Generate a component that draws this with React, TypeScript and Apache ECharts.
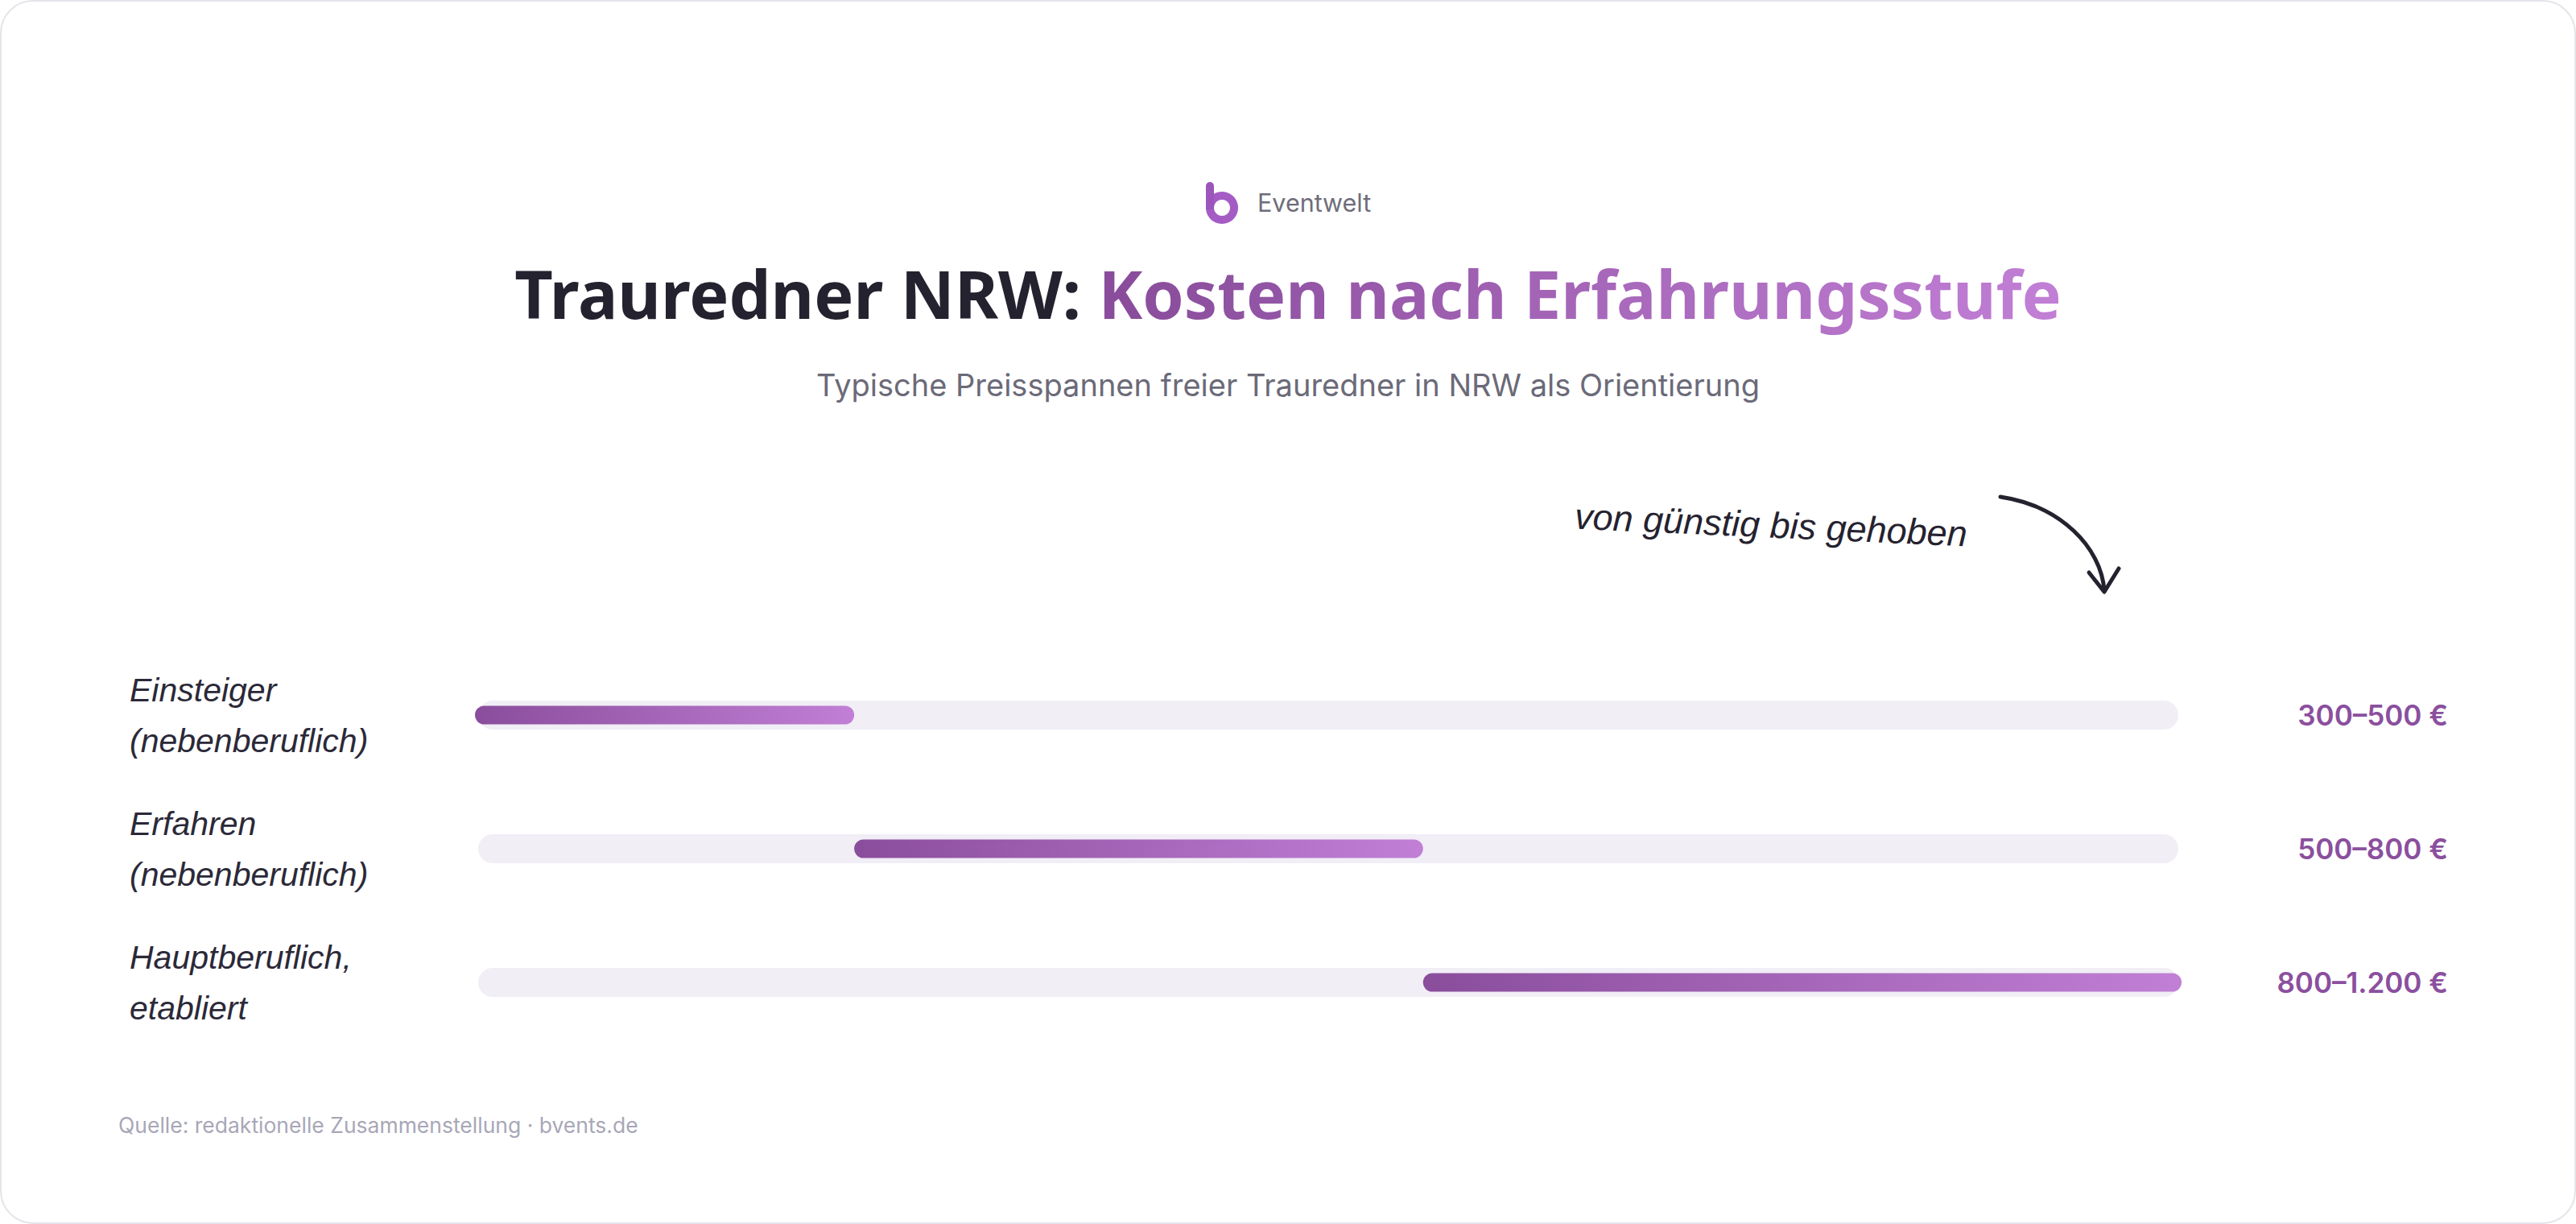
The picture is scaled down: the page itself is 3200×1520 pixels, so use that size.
import React, { useEffect, useRef } from "react";
import * as echarts from "echarts";

// ---- data ----
const categories: string[] = [
  "Einsteiger\n(nebenberuflich)",
  "Erfahren\n(nebenberuflich)",
  "Hauptberuflich,\netabliert",
];
const rangeStart: number[] = [300, 500, 800];
const rangeEnd: number[] = [500, 800, 1200];
const axisMin = 300;
const axisMax = 1200;

const titleDark = "Trauredner NRW: ";
const titleAccent = "Kosten nach Erfahrungsstufe";
const subtitle = "Typische Preisspannen freier Trauredner in NRW als Orientierung";
const brand = "Eventwelt";
const annotation = "von günstig bis gehoben";
const source = "Quelle: redaktionelle Zusammenstellung · bvents.de";

const fmt = (v: number): string =>
  v >= 1000 ? `${Math.floor(v / 1000)}.${String(v % 1000).padStart(3, "0")}` : String(v);

const HAND = "'Liberation Sans', Arimo, sans-serif";
const SANS = "Inter, 'Noto Sans', sans-serif";
const TITLE_FONT = "'Noto Sans', sans-serif";

const ACCENT_FROM = [0x8a, 0x4d, 0x9c];
const ACCENT_TO = [0xc0, 0x7e, 0xd4];

function mix(t: number): string {
  const c = ACCENT_FROM.map((a, k) => Math.round(a + (ACCENT_TO[k] - a) * t));
  return `rgb(${c[0]},${c[1]},${c[2]})`;
}

function buildTitle() {
  const chars = Array.from(titleAccent);
  const rich: Record<string, any> = {
    d: { fill: "#25222f", fontFamily: TITLE_FONT, fontWeight: 700, fontSize: 82.5 },
  };
  let text = `{d|${titleDark}}`;
  chars.forEach((ch, i) => {
    const key = `c${i}`;
    rich[key] = {
      fill: mix(chars.length > 1 ? i / (chars.length - 1) : 0),
      fontFamily: TITLE_FONT,
      fontWeight: 700,
      fontSize: 82.5,
    };
    text += `{${key}|${ch}}`;
  });
  return { text, rich };
}

export default function App() {
  const ref = useRef<HTMLDivElement>(null);

  useEffect(() => {
    document.body.style.margin = "0";
    if (!ref.current) return;
    const chart = echarts.init(ref.current, undefined, { renderer: "svg" });

    const data = rangeStart.map((s, i) => [s, rangeEnd[i], i]);
    const title = buildTitle();

    const option: any = {
      animation: false,
      backgroundColor: "#ffffff",
      grid: { left: 590, right: 490, top: 805, height: 498, containLabel: false },
      xAxis: { type: "value", min: axisMin, max: axisMax, show: false },
      yAxis: {
        type: "category",
        data: categories,
        inverse: true,
        axisLine: { show: false },
        axisTick: { show: false },
        splitLine: { show: false },
        axisLabel: {
          align: "left",
          margin: 429,
          fontFamily: HAND,
          fontStyle: "italic",
          fontSize: 41,
          lineHeight: 63,
          color: "#2b2938",
        },
      },
      series: [
        {
          type: "custom",
          data,
          encode: { x: [0, 1], y: 2 },
          renderItem: (params: any, api: any) => {
            const idx = api.value(2);
            const s = api.coord([api.value(0), idx]);
            const e = api.coord([api.value(1), idx]);
            const t0 = api.coord([axisMin, idx]);
            const t1 = api.coord([axisMax, idx]);
            const cy = s[1];
            return {
              type: "group",
              children: [
                {
                  type: "rect",
                  shape: { x: t0[0] + 4, y: cy - 18, width: t1[0] - t0[0] - 8, height: 36, r: 18 },
                  style: { fill: "#f1eef6" },
                },
                {
                  type: "rect",
                  shape: { x: s[0], y: cy - 11.5, width: e[0] - s[0], height: 23, r: 11.5 },
                  style: {
                    fill: new echarts.graphic.LinearGradient(0, 0, 1, 0, [
                      { offset: 0, color: "#8a4d9c" },
                      { offset: 1, color: "#c17fd5" },
                    ]),
                  },
                },
                {
                  type: "text",
                  x: 3041,
                  y: cy,
                  style: {
                    text: `${fmt(api.value(0))}–${fmt(api.value(1))} €`,
                    align: "right",
                    verticalAlign: "middle",
                    fill: "#8b4f9e",
                    fontFamily: SANS,
                    fontWeight: 600,
                    fontSize: 35,
                  },
                },
              ],
            };
          },
        },
      ],
      graphic: [
        {
          type: "rect",
          z: -10,
          shape: { x: 1, y: 1, width: 3198, height: 1518, r: 40 },
          style: { fill: "#ffffff", stroke: "#e4e4ea", lineWidth: 2 },
        },
        // logo
        {
          type: "ring",
          shape: { cx: 1518, cy: 258, r: 20, r0: 10 },
          style: { fill: "#a45cc4" },
        },
        {
          type: "rect",
          shape: { x: 1498, y: 226, width: 10, height: 34, r: [5, 5, 0, 0] },
          style: { fill: "#9b55bb" },
        },
        {
          type: "text",
          x: 1562,
          y: 251,
          style: {
            text: brand,
            align: "left",
            verticalAlign: "middle",
            fill: "#6e6d7a",
            fontFamily: SANS,
            fontSize: 30.5,
          },
        },
        // title
        {
          type: "text",
          x: 1600,
          y: 364,
          style: {
            text: title.text,
            rich: title.rich,
            align: "center",
            verticalAlign: "middle",
            fontFamily: TITLE_FONT,
            fontWeight: 700,
            fontSize: 82.5,
          },
        },
        {
          type: "text",
          x: 1600,
          y: 478,
          style: {
            text: subtitle,
            align: "center",
            verticalAlign: "middle",
            fill: "#6b6a78",
            fontFamily: SANS,
            fontSize: 38,
          },
        },
        // annotation
        {
          type: "text",
          x: 2200,
          y: 652,
          rotation: -0.045,
          style: {
            text: annotation,
            align: "center",
            verticalAlign: "middle",
            fill: "#25222f",
            fontFamily: HAND,
            fontStyle: "italic",
            fontSize: 45,
          },
        },
        {
          type: "bezierCurve",
          shape: { x1: 2485, y1: 617, cpx1: 2560, cpy1: 628, cpx2: 2610, cpy2: 680, x2: 2614, y2: 733 },
          style: { stroke: "#25222f", lineWidth: 5, fill: null, lineCap: "round" },
        },
        {
          type: "polyline",
          shape: { points: [[2595, 711], [2614, 735], [2632, 706]] },
          style: { stroke: "#25222f", lineWidth: 5, fill: null, lineCap: "round", lineJoin: "round" },
        },
        {
          type: "text",
          x: 147,
          y: 1397,
          style: {
            text: source,
            align: "left",
            verticalAlign: "middle",
            fill: "#a8a7b7",
            fontFamily: SANS,
            fontSize: 26.5,
          },
        },
      ],
    };

    chart.setOption(option);
    return () => chart.dispose();
  }, []);

  return (
    <div
      ref={ref}
      style={{ position: "absolute", left: 0, top: 0, width: 3200, height: 1520 }}
    />
  );
}
